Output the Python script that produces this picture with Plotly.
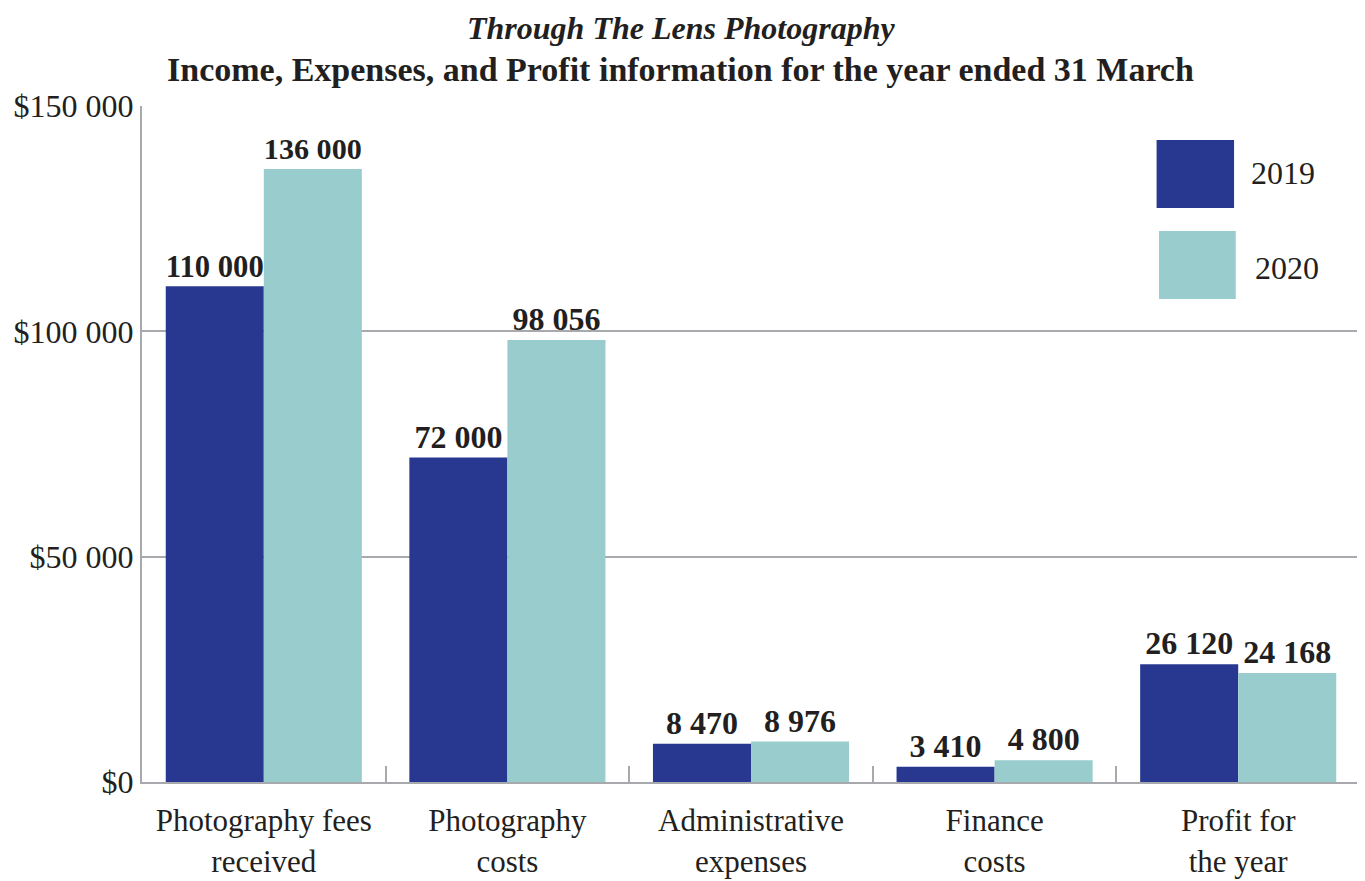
import plotly.graph_objects as go

categories = ["Photography fees<br>received", "Photography<br>costs", "Administrative<br>expenses",
              "Finance<br>costs", "Profit for<br>the year"]
values_2019 = [110000, 72000, 8470, 3410, 26120]
values_2020 = [136000, 98056, 8976, 4800, 24168]
series_names = ["2019", "2020"]
colors = ["#283891", "#99CDCD"]
y_ticks = [0, 50000, 100000, 150000]
y_ticktext = ["$" + f"{v:,}".replace(",", " ") for v in y_ticks]

FONT = "Liberation Serif"
TXT = "#231f20"
GRID = "#a7a9ac"

fig = go.Figure()
for name, vals, col in zip(series_names, [values_2019, values_2020], colors):
    fig.add_trace(go.Bar(
        x=categories, y=vals, name=name, marker=dict(color=col, line=dict(width=0)),
        texttemplate="%{y:,.0f}", textposition="outside", cliponaxis=False,
        textfont=dict(family=FONT, size=32, color=TXT, weight="bold"),
        showlegend=False,
    ))

# legend keys drawn as large squares
legend_pos = [(0.833, 0.9497, 0.8966, 0.849, 0.909, 0.901),
              (0.835, 0.815, 0.898, 0.7145, 0.912, 0.760)]
for (x0, y1, x1, y0, tx, ty), name, col in zip(legend_pos, series_names, colors):
    fig.add_shape(type="rect", xref="paper", yref="paper", x0=x0, x1=x1, y0=y0, y1=y1,
                  fillcolor=col, line=dict(width=0))
    fig.add_annotation(xref="paper", yref="paper", x=tx, y=ty,
                       text=name, showarrow=False, xanchor="left", yanchor="middle",
                       font=dict(family=FONT, size=32, color=TXT))

fig.add_annotation(xref="paper", yref="paper", x=0.4425, y=1.1154, xanchor="center", yanchor="middle",
                   text="<i>Through The Lens Photography</i>", showarrow=False,
                   font=dict(family=FONT, size=32, color=TXT, weight="bold"))
fig.add_annotation(xref="paper", yref="paper", x=0.4425, y=1.0533, xanchor="center", yanchor="middle",
                   text="Income, Expenses, and Profit information for the year ended 31 March", showarrow=False,
                   font=dict(family=FONT, size=34, color=TXT, weight="bold"))

fig.update_layout(
    width=1357, height=873,
    margin=dict(l=134, r=5, t=98, b=99),
    paper_bgcolor="white", plot_bgcolor="white",
    barmode="group", bargap=0.195, bargroupgap=0,
    separators=". ",
    font=dict(family=FONT, size=32, color=TXT),
    xaxis=dict(
        automargin=False,
        showline=True, linecolor=GRID, linewidth=2,
        ticks="inside", tickson="boundaries", ticklen=16, tickcolor=GRID, tickwidth=2,
        tickfont=dict(family=FONT, size=31, color=TXT),
        ticklabelstandoff=10,
        showgrid=False,
    ),
    yaxis=dict(
        automargin=False,
        range=[0, 150000], tickvals=y_ticks, ticktext=y_ticktext,
        showline=True, linecolor=GRID, linewidth=2,
        showgrid=True, gridcolor=GRID, gridwidth=1.5,
        zeroline=False, ticks="", ticklabelstandoff=0,
        tickfont=dict(family=FONT, size=32, color=TXT),
    ),
)

fig.write_html("out.html")
